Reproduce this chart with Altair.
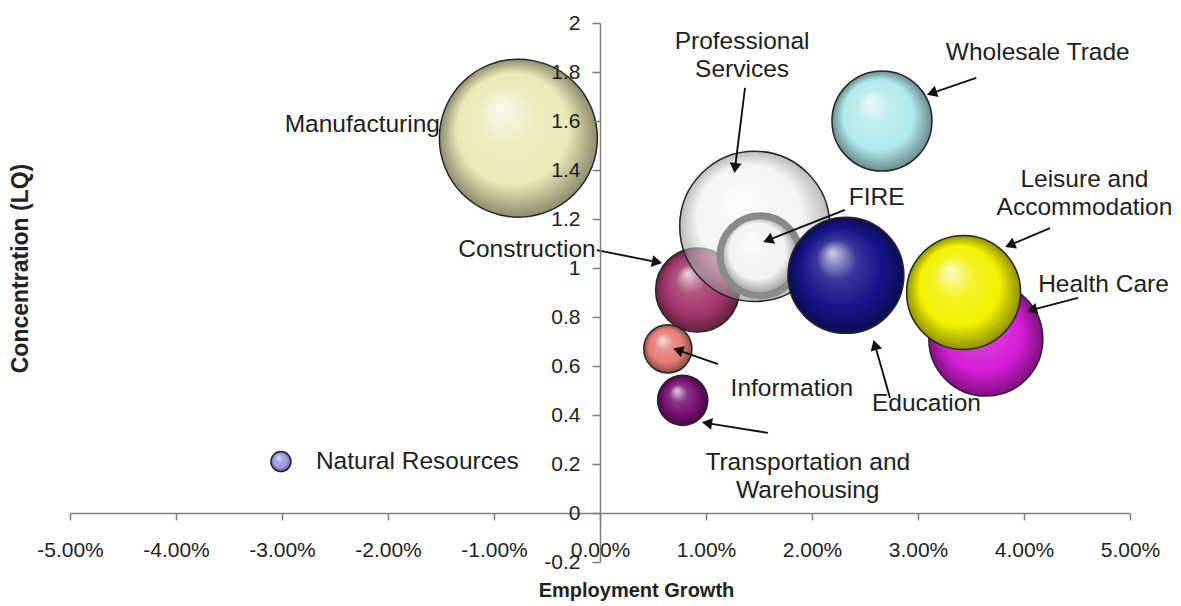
import math
import altair as alt
import pandas as pd

# ---------------- data ----------------
sectors = ["Manufacturing", "Wholesale Trade", "Health Care", "Leisure and Accommodation",
           "Construction", "Professional Services", "FIRE", "Education", "Information",
           "Transportation and Warehousing", "Natural Resources"]
growth = [-0.0077, 0.0266, 0.0364, 0.0343, 0.0092, 0.0146, 0.0151, 0.0232, 0.0064, 0.0078, -0.0301]
lq = [1.53, 1.60, 0.71, 0.90, 0.91, 1.17, 1.05, 0.97, 0.67, 0.46, 0.21]
bubble_size = [62.4, 25.0, 32.5, 32.5, 17.6, 56.3, 16.0, 33.6, 5.8, 6.3, 1.0]
colors = ["#ECEAB8", "#B2EAEC", "#D41CD4", "#F2F200", "#A3366B", "#EEEEEE",
          "#F4F4F4", "#14148A", "#E57D76", "#761070", "#9C9CE6"]

label_text = ["Manufacturing", "Professional", "Services", "Wholesale Trade", "FIRE",
              "Leisure and", "Accommodation", "Health Care", "Construction", "Information",
              "Education", "Transportation and", "Warehousing", "Natural Resources"]
label_x = [-0.0151, 0.0134, 0.0134, 0.0413, 0.0261, 0.0457, 0.0457, 0.0475, -0.0004,
           0.0181, 0.0308, 0.0196, 0.0196, -0.0268]
label_y = [1.584, 1.922, 1.808, 1.878, 1.286, 1.359, 1.245, 0.931, 1.073, 0.506, 0.445,
           0.204, 0.090, 0.208]
label_align = ["right", "center", "center", "center", "center", "center", "center", "center",
               "right", "center", "center", "center", "center", "left"]

arrow_from_x = [0.0355, 0.01368, 0.02311, 0.04245, 0.04509, -0.0003, 0.01113, 0.02736, 0.01585]
arrow_from_y = [1.776, 1.735, 1.237, 1.163, 0.878, 1.073, 0.608, 0.469, 0.327]
arrow_to_x = [0.0313, 0.01274, 0.01585, 0.03868, 0.04075, 0.00538, 0.00736, 0.02594, 0.01009]
arrow_to_y = [1.714, 1.408, 1.114, 1.094, 0.829, 1.024, 0.665, 0.686, 0.367]

y_ticks = [round(-0.2 + 0.2 * i, 1) for i in range(12)]
x_ticks = [round(-0.05 + 0.01 * i, 2) for i in range(11)]

# ---------------- layout ----------------
W, H = 1060, 539
XMIN, XMAX, YMIN, YMAX = -0.05, 0.05, -0.2, 2.0
PXX = W / (XMAX - XMIN)
PXY = H / (YMAX - YMIN)

FONT = "Liberation Sans"

x_scale = alt.Scale(domain=[XMIN, XMAX], nice=False, zero=False)
y_scale = alt.Scale(domain=[YMIN, YMAX], nice=False, zero=False)
minus_fix = "replace(datum.label, '\u2212', '-')"

x_axis = alt.Axis(values=x_ticks, format=".2%", labelExpr=minus_fix,
                  offset=-H * (0 - YMIN) / (YMAX - YMIN), grid=False, tickSize=7,
                  labelPadding=19, labelFontSize=21, labelFlush=False, labelOverlap=False,
                  title="Employment Growth", titleFontSize=20, titleFontWeight="bold",
                  titleX=566, titleY=77, titleBaseline="middle", titleAlign="center", zindex=1)
y_axis = alt.Axis(values=y_ticks, format="~g", labelExpr=minus_fix,
                  offset=-W * (0 - XMIN) / (XMAX - XMIN), grid=False, tickSize=8,
                  labelPadding=12, labelFontSize=21, labelFlush=False, labelOverlap=False,
                  title="Concentration (LQ)", titleFontSize=23, titleFontWeight="bold",
                  titleX=-580, titleY=245, titleAngle=270, titleBaseline="middle",
                  titleAlign="center", zindex=1)

X = alt.X("x:Q", scale=x_scale, axis=x_axis)
Y = alt.Y("y:Q", scale=y_scale, axis=y_axis)


def shade(hexcol, f):
    h = hexcol.lstrip("#")
    r, g, b = int(h[0:2], 16), int(h[2:4], 16), int(h[4:6], 16)
    if f >= 0:
        r, g, b = [int(c + (255 - c) * f) for c in (r, g, b)]
    else:
        r, g, b = [int(c * (1 + f)) for c in (r, g, b)]
    return "#%02x%02x%02x" % (r, g, b)


bubbles = pd.DataFrame({"sector": sectors, "x": growth, "y": lq, "size": bubble_size})
size_scale = alt.Scale(domain=[0, 100], range=[0, 40000])

layers = []
for name, col in zip(sectors, colors):
    grad = alt.RadialGradient(
        gradient="radial", x1=0.38, y1=0.3, r1=0.0, x2=0.5, y2=0.5, r2=0.5,
        stops=[alt.GradientStop(color=shade(col, 0.8), offset=0.0),
               alt.GradientStop(color=shade(col, 0.15), offset=0.35),
               alt.GradientStop(color=col, offset=0.7),
               alt.GradientStop(color=shade(col, -0.4), offset=1.0)])
    is_fire = name == "FIRE"
    is_prof = name == "Professional Services"
    layers.append(
        alt.Chart(bubbles).transform_filter(alt.datum.sector == name).mark_circle(
            fill=grad, opacity=1, fillOpacity=0.6 if is_prof else 1,
            stroke="#8a8a8a" if is_fire else "#262626",
            strokeWidth=7 if is_fire else 1.5,
        ).encode(x=X, y=Y, size=alt.Size("size:Q", scale=size_scale, legend=None))
    )

# annotations
labels = pd.DataFrame({"text": label_text, "x": label_x, "y": label_y, "align": label_align})
for al in ["left", "center", "right"]:
    layers.append(
        alt.Chart(labels).transform_filter(alt.datum.align == al).mark_text(
            align=al, baseline="middle", font=FONT, fontSize=24.5, color="#1e1e1e"
        ).encode(x=X, y=Y, text="text:N")
    )

angles = []
for fx, fy, tx, ty in zip(arrow_from_x, arrow_from_y, arrow_to_x, arrow_to_y):
    dx = (tx - fx) * PXX
    dy = -(ty - fy) * PXY
    angles.append(math.degrees(math.atan2(dx, -dy)) % 360)

arrows = pd.DataFrame({"x": arrow_from_x, "y": arrow_from_y, "x2": arrow_to_x,
                       "y2": arrow_to_y, "angle": angles})
layers.append(
    alt.Chart(arrows).mark_rule(color="#111111", strokeWidth=1.9).encode(
        x=X, y=Y, x2="x2:Q", y2="y2:Q")
)
layers.append(
    alt.Chart(arrows).mark_point(shape="triangle-up", filled=True, color="#111111",
                                 opacity=1, size=140).encode(
        x=alt.X("x2:Q", scale=x_scale, axis=x_axis),
        y=alt.Y("y2:Q", scale=y_scale, axis=y_axis),
        angle=alt.Angle("angle:Q", scale=None))
)

chart = alt.layer(*layers).properties(
    width=W, height=H,
    autosize=alt.AutoSizeParams(type="none"),
    padding={"left": 62, "top": 15, "right": 43, "bottom": 43},
    background="white",
).configure_view(stroke=None).configure_axis(
    domainColor="#7f7f7f", tickColor="#7f7f7f", domainWidth=1.5, tickWidth=1.5,
    labelColor="#222222", titleColor="#222222", labelFont=FONT, titleFont=FONT,
)

chart.save("out.html", embed_options={"renderer": "svg", "actions": False})
